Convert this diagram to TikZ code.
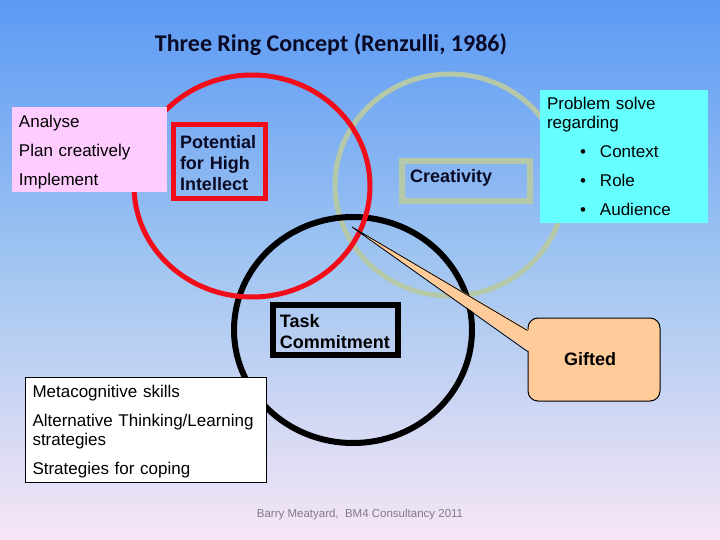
\documentclass[tikz,border=0pt]{standalone}
\usepackage{fontspec}
\setmainfont{Liberation Sans}
\newfontfamily\titlefont{Carlito}
\usetikzlibrary{calc}
\definecolor{cBgTop}{HTML}{5C9AF4}
\definecolor{cBgMid}{HTML}{A2C6F1}
\definecolor{cBgBot}{HTML}{F7E6F6}
\definecolor{cTitle}{HTML}{0A0A26}
\definecolor{cNavy}{HTML}{0A0A24}
\definecolor{cRing}{HTML}{F20D1A}
\definecolor{cSage}{HTML}{B5C9A8}
\definecolor{cPink}{HTML}{FFCCFF}
\definecolor{cCyan}{HTML}{66FFFF}
\definecolor{cPeach}{HTML}{FFCC99}
\definecolor{cFoot}{HTML}{7F7A8C}
\newcommand{\lowr}[1]{\rule{0pt}{#1}}

\begin{document}
\begin{tikzpicture}[x=1pt,y=-1pt,
  txt/.style={font=\fontsize{17}{19}\selectfont,align=left,
              inner xsep=0pt,inner ysep=0pt},
  bld/.style={font=\fontsize{18}{21}\selectfont\bfseries,align=left,
              inner xsep=0pt,inner ysep=0pt},
  ring/.style={line width=#1},
  ]
  % background
  \fill[top color=cBgTop,bottom color=cBgBot,middle color=cBgMid]
    (0,0) rectangle (720,540);
  \useasboundingbox (0,0) rectangle (720,540);

  \node[font=\titlefont\bfseries\fontsize{24}{28}\selectfont,text=cTitle]
    (title) at (331,45) {Three Ring Concept (Renzulli, 1986)};

  % the three rings
  \draw[cSage,ring=5pt] (450,185) ellipse [x radius=115pt,y radius=111pt];
  \draw[black,ring=6pt] (353,330) ellipse [x radius=119pt,y radius=113pt];
  \draw[cRing,ring=5pt] (252,186) ellipse [x radius=118pt,y radius=111pt];

  \node[txt,fill=cPink,minimum width=155pt,minimum height=85pt,
        text width=141pt] (steps) at (89.5,149.5)
    {\lowr{17.5pt}Analyse\\[10pt]Plan creatively\\[10pt]Implement};
  \node[bld,text=cNavy,draw=cRing,line width=5pt,minimum width=92pt,
        minimum height=74pt,text width=79pt] (intellect) at (219.5,161.5)
    {\lowr{17pt}Potential\\for High\\Intellect};
  \node[bld,text=cNavy,draw=cSage,line width=6pt,minimum width=128pt,
        minimum height=40pt,text width=112pt] (creat) at (466,181)
    {\raisebox{10pt}{Creativity}};
  \node[txt,fill=cCyan,minimum width=168pt,minimum height=133pt,
        text width=154pt] (regard) at (624,156.5)
    {Problem solve\\regarding\\[10pt]
     \hspace*{33pt}\makebox[20pt][l]{\textbullet}Context\\[10pt]
     \hspace*{33pt}\makebox[20pt][l]{\textbullet}Role\\[10pt]
     \hspace*{33pt}\makebox[20pt][l]{\textbullet}Audience};
  \node[bld,draw=black,line width=6pt,minimum width=124.7pt,
        minimum height=50pt,text width=111pt] (task) at (335.4,329.7)
    {\lowr{17pt}Task\\Commitment};
  \node[txt,fill=white,draw=black,line width=1pt,minimum width=241pt,
        minimum height=105pt,text width=226pt] (meta) at (145.5,429.5)
    {\lowr{16.5pt}Metacognitive skills\\[10pt]Alternative Thinking/Learning\\strategies\\[10pt]
     Strategies for coping};

  % callout
  \node[bld,align=center,fill=cPeach,draw=black,line width=1pt,
        rounded corners=10pt,minimum width=132pt,minimum height=83pt]
    (gifted) at (594,359.5) {\hspace*{-8pt}\raisebox{-4pt}{Gifted}};
  \coordinate (tip) at (352,227);
  \fill[cPeach] ($(gifted.north west)+(2,13)$) -- (tip)
    -- ($(gifted.north west)+(2,34)$) -- cycle;
  \draw[line width=0.8pt] ($(gifted.north west)+(0,13)$) -- (tip)
    -- ($(gifted.north west)+(0,34)$);

  \node[font=\fontsize{11.5}{14}\selectfont,text=cFoot] (credit)
    at (360,515) {Barry Meatyard,~~BM4 Consultancy 2011};
\end{tikzpicture}
\end{document}
